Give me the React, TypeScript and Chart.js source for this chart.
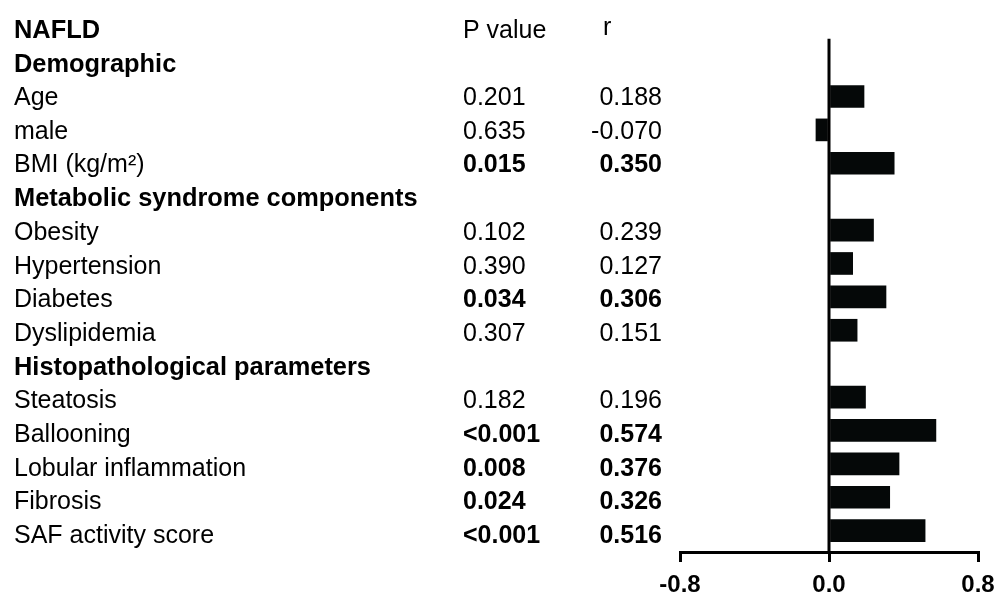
import { useEffect, useRef } from 'react';
import { Chart, registerables } from 'chart.js';

Chart.register(...registerables);

const rowLabels = [
  'NAFLD',
  'Demographic',
  'Age',
  'male',
  'BMI (kg/m²)',
  'Metabolic syndrome components',
  'Obesity',
  'Hypertension',
  'Diabetes',
  'Dyslipidemia',
  'Histopathological parameters',
  'Steatosis',
  'Ballooning',
  'Lobular inflammation',
  'Fibrosis',
  'SAF activity score',
];

const headerRows = [true, true, false, false, false, true, false, false, false, false, true, false, false, false, false, false];

const pValues = ['', '', '0.201', '0.635', '0.015', '', '0.102', '0.390', '0.034', '0.307', '', '0.182', '<0.001', '0.008', '0.024', '<0.001'];

const rValues: (number | null)[] = [null, null, 0.188, -0.07, 0.35, null, 0.239, 0.127, 0.306, 0.151, null, 0.196, 0.574, 0.376, 0.326, 0.516];

const columnTitles = ['P value', 'r'];

const xTicks = [-0.8, 0.0, 0.8];

// index range of the bar axis (rows run top to bottom)
const barAxisMin = -0.5;
const barAxisMax = 15.64;

const FONT = '"Liberation Sans", Arial, Helvetica, sans-serif';
const FS = 25;
const FS_HEAD = 25.4;

function isSignificant(p: string): boolean {
  if (!p) return false;
  if (p.startsWith('<')) return true;
  return parseFloat(p) < 0.05;
}

const tablePlugin = {
  id: 'tablePlugin',
  afterDatasetsDraw(chart: any) {
    const ctx = chart.ctx as CanvasRenderingContext2D;
    const ys = chart.scales.rows;
    const xs = chart.scales.x;
    const area = chart.chartArea;
    ctx.save();
    const x0 = xs.getPixelForValue(0);
    ctx.strokeStyle = '#000';
    ctx.lineWidth = 3;
    ctx.beginPath();
    ctx.moveTo(x0, ys.getPixelForValue(0) + 9);
    ctx.lineTo(x0, area.bottom);
    ctx.stroke();
    ctx.restore();
  },
  afterDraw(chart: any) {
    const ctx = chart.ctx as CanvasRenderingContext2D;
    const ys = chart.scales.rows;
    ctx.save();
    ctx.fillStyle = '#000';
    ctx.textBaseline = 'middle';
    rowLabels.forEach((lab, i) => {
      const yy = ys.getPixelForValue(i) + 1;
      ctx.textAlign = 'left';
      ctx.font = headerRows[i] ? `bold ${FS_HEAD}px ${FONT}` : `${FS}px ${FONT}`;
      ctx.fillText(lab, 14, yy);
      const sig = isSignificant(pValues[i]);
      ctx.font = `${sig ? 'bold ' : ''}${FS}px ${FONT}`;
      if (pValues[i]) {
        ctx.fillText(pValues[i], 463, yy);
      }
      const r = rValues[i];
      if (r !== null && r !== undefined) {
        ctx.textAlign = 'right';
        ctx.fillText(r.toFixed(3), 662, yy);
      }
    });
    const y0 = ys.getPixelForValue(0) + 1;
    ctx.font = `${FS}px ${FONT}`;
    ctx.textAlign = 'left';
    ctx.fillText(columnTitles[0], 463, y0);
    ctx.fillText(columnTitles[1], 603, y0 - 3);
    ctx.restore();
  },
};

export default function App() {
  const ref = useRef<HTMLCanvasElement | null>(null);
  useEffect(() => {
    if (!ref.current) return;
    const points = rValues
      .map((r, i) => (r === null ? null : { x: r, y: i }))
      .filter((p) => p !== null);
    const chart = new Chart(ref.current, {
      type: 'bar',
      data: {
        datasets: [
          {
            data: points as any,
            backgroundColor: '#050808',
            borderWidth: 0,
            barThickness: 22,
            xAxisID: 'x',
            yAxisID: 'y',
          },
        ],
      },
      options: {
        indexAxis: 'y',
        animation: false,
        responsive: false,
        devicePixelRatio: 1,
        layout: { padding: { left: 680, right: 17, top: 13, bottom: 0 } },
        plugins: { legend: { display: false }, tooltip: { enabled: false } },
        scales: {
          y: {
            type: 'linear',
            reverse: true,
            min: barAxisMin,
            max: barAxisMax,
            offset: false,
            bounds: 'data',
            grace: 0,
            display: false,
          },
          rows: {
            type: 'category',
            axis: 'y',
            labels: rowLabels,
            offset: true,
            display: false,
          },
          x: {
            type: 'linear',
            min: -0.8,
            max: 0.8,
            afterBuildTicks: (s: any) => {
              s.ticks = xTicks.map((v) => ({ value: v }));
            },
            afterFit: (s: any) => {
              s.paddingLeft = 0;
              s.paddingRight = 0;
              s.height = 40;
            },
            border: { display: true, width: 3, color: '#000' },
            grid: {
              display: true,
              drawOnChartArea: false,
              drawTicks: true,
              tickLength: 10,
              lineWidth: 3,
              color: '#000',
            },
            ticks: {
              color: '#000',
              padding: 11,
              maxRotation: 0,
              font: { family: FONT, size: 24, weight: 'bold', lineHeight: 1 },
              callback: (v: any) => Number(v).toFixed(1),
            },
          },
        },
      },
      plugins: [tablePlugin],
    });
    return () => chart.destroy();
  }, []);
  return (
    <div style={{ position: 'fixed', left: 0, top: 0, width: 995, height: 592, background: '#fff', overflow: 'hidden' }}>
      <canvas ref={ref} width={995} height={592} />
    </div>
  );
}
